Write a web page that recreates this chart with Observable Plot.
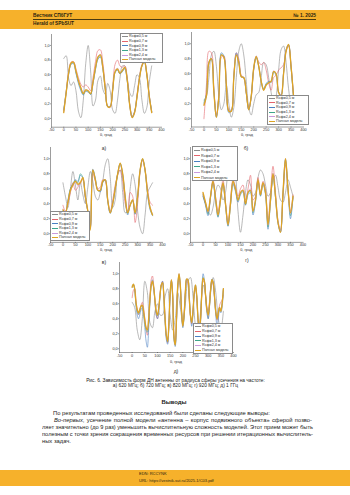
<!DOCTYPE html>
<html><head><meta charset="utf-8">
<script src="https://cdn.jsdelivr.net/npm/d3@7"></script>
<script src="https://cdn.jsdelivr.net/npm/@observablehq/plot@0.6"></script>
<style>
html,body{margin:0;padding:0;background:#fff;}
#page{position:relative;width:350px;height:495px;overflow:hidden;font-family:"Liberation Sans",Arial,sans-serif;color:#222;background:#fff;}
.t{position:absolute;white-space:nowrap;}
.band{position:absolute;left:0;width:350px;background:#f6b12b;}
.leg{position:absolute;background:#fff;border:0.4px solid #8a8a8a;box-sizing:border-box;}
.legrow{position:absolute;white-space:nowrap;font-size:3.7px;line-height:4px;color:#333;}
.sw{position:absolute;height:0;}
</style></head><body>
<div id="page"></div>
<script>
// ---------- data ----------
const seriesNames = ["Rсф=0,5 м","Rсф=0,7 м","Rсф=0,9 м","Rсф=1,3 м","Rсф=2,4 м","Полная модель"];
const xTicks = [-50,0,50,100,150,200,250,300,350,400];
const yTicks = [0,0.2,0.4,0.6,0.8,1.0];
const panelLetters = ["а)","б)","в)","г)","д)"];
const theta10 = [0,10,20,30,40,50,60,70,80,90,100,110,120,130,140,150,160,170,180,190,200,210,220,230,240,250,260,270,280,290,300,310,320,330,340,350,360];
const theta5 = [0,5,10,15,20,25,30,35,40,45,50,55,60,65,70,75,80,85,90,95,100,105,110,115,120,125,130,135,140,145,150,155,160,165,170,175,180,185,190,195,200,205,210,215,220,225,230,235,240,245,250,255,260,265,270,275,280,285,290,295,300,305,310,315,320,325,330,335,340,345,350,355,360];

// а) 620 MHz
const a05 = [0.82,0.86,0.55,0.45,0.50,0.38,0.10,0.01,0.25,0.75, 1.00,0.65,0.17,0.25,0.52,0.58,0.40,0.33,0.48,0.38, 0.12,0.07,0.25,0.55,0.72,0.72,0.55,0.35,0.30,0.45, 0.60,0.55,0.25,0.07,0.15,0.50,0.72];
const a07 = [0.10,0.37,0.64,0.77,0.78,0.68,0.56,0.47,0.43,0.46, 0.43,0.38,0.56,0.78,0.93,0.94,0.76,0.45,0.16,0.15, 0.42,0.74,0.80,0.72,0.70,0.72,0.55,0.20,0.03,0.10, 0.33,0.58,0.74,0.79,0.62,0.32,0.09];
const a09 = [0.12,0.36,0.60,0.74,0.75,0.62,0.48,0.38,0.32,0.37, 0.36,0.33,0.48,0.67,0.81,0.84,0.68,0.40,0.17,0.17, 0.38,0.63,0.66,0.61,0.64,0.68,0.51,0.19,0.02,0.09, 0.31,0.56,0.72,0.77,0.60,0.31,0.10];
const a13 = [0.11,0.35,0.61,0.75,0.76,0.63,0.50,0.40,0.33,0.38, 0.37,0.33,0.49,0.68,0.82,0.85,0.69,0.40,0.16,0.16, 0.38,0.63,0.67,0.61,0.65,0.69,0.52,0.18,0.02,0.09, 0.30,0.55,0.72,0.78,0.60,0.30,0.09];
const a24 = [0.09,0.35,0.62,0.76,0.77,0.65,0.52,0.42,0.35,0.39, 0.38,0.34,0.50,0.70,0.85,0.88,0.70,0.40,0.16,0.16, 0.38,0.65,0.69,0.62,0.66,0.70,0.52,0.18,0.01,0.08, 0.30,0.55,0.72,0.78,0.60,0.30,0.08];
const aFull = [0.08,0.35,0.62,0.76,0.77,0.65,0.52,0.42,0.34,0.39, 0.38,0.34,0.50,0.70,0.84,0.87,0.70,0.40,0.16,0.16, 0.38,0.64,0.68,0.62,0.66,0.70,0.52,0.18,0.01,0.08, 0.30,0.55,0.72,0.78,0.60,0.30,0.08];

// б) 720 MHz
const b05 = [0.25,0.30,0.55,0.85,0.90,0.70,0.30,0.12,0.20,0.45, 0.20,0.02,0.15,0.55,0.90,1.00,0.85,0.50,0.15,0.05, 0.20,0.32,0.35,0.55,0.75,0.72,0.55,0.35,0.20,0.30, 0.65,0.92,0.97,0.75,0.40,0.20,0.30];
const b07 = [0.00,0.45,0.90,0.88,0.40,0.05,0.32,0.82,0.84,0.45, 0.12,0.12,0.58,0.88,0.80,0.58,0.55,0.35,0.13,0.28, 0.65,0.82,0.76,0.72,0.75,0.65,0.48,0.38,0.55,0.58, 0.65,0.68,0.72,0.90,0.97,0.70,0.30];
const b09 = [0.20,0.32,0.76,0.80,0.36,0.03,0.32,0.88,0.84,0.44, 0.08,0.10,0.56,0.88,0.76,0.56,0.54,0.34,0.12,0.30, 0.66,0.82,0.70,0.50,0.40,0.47,0.50,0.48,0.62,0.58, 0.36,0.32,0.62,0.92,0.98,0.68,0.28];
const b13 = [0.22,0.32,0.74,0.80,0.36,0.02,0.30,0.86,0.82,0.44, 0.10,0.11,0.55,0.86,0.75,0.56,0.55,0.35,0.12,0.30, 0.67,0.82,0.70,0.50,0.39,0.46,0.49,0.50,0.63,0.59, 0.35,0.31,0.61,0.91,0.99,0.69,0.29];
const b24 = [0.18,0.30,0.75,0.81,0.35,0.02,0.30,0.85,0.82,0.45, 0.10,0.10,0.56,0.86,0.76,0.57,0.55,0.35,0.12,0.30, 0.68,0.84,0.71,0.50,0.38,0.45,0.48,0.50,0.64,0.60, 0.36,0.32,0.62,0.92,0.99,0.71,0.30];
const bFull = [0.18,0.30,0.75,0.80,0.35,0.02,0.30,0.85,0.82,0.45, 0.10,0.10,0.55,0.85,0.75,0.56,0.55,0.35,0.12,0.30, 0.68,0.83,0.70,0.50,0.38,0.45,0.48,0.50,0.63,0.60, 0.35,0.30,0.60,0.90,0.99,0.70,0.30];

// в) 820 MHz
const c05 = [0.68,0.50,0.35,0.60,0.83,0.65,0.45,0.68,0.52,0.40, 0.62,0.83,0.70,0.50,0.45,0.55,0.70,0.92,1.00,0.75, 0.35,0.45,0.80,0.85,0.55,0.28,0.30,0.60,0.80,0.65, 0.30,0.08,0.00,0.25,0.55,0.62,0.68];
const c07 = [0.38,0.30,0.40,0.55,0.68,0.58,0.62,0.70,0.72,0.48, 0.30,0.10,0.80,0.70,0.60,0.62,0.72,0.70,0.45,0.30, 0.45,0.65,0.78,0.85,0.70,0.40,0.30,0.55,0.50,0.15, 0.40,0.82,0.98,0.85,0.60,0.42,0.38];
const c09 = [0.30,0.28,0.45,0.60,0.66,0.72,0.70,0.78,0.74,0.48, 0.30,0.10,0.86,0.74,0.58,0.56,0.68,0.72,0.43,0.27, 0.40,0.60,0.80,0.93,0.78,0.48,0.25,0.38,0.44,0.26, 0.48,0.84,0.99,0.84,0.52,0.32,0.24];
const c13 = [0.31,0.28,0.43,0.60,0.66,0.71,0.68,0.80,0.75,0.50, 0.30,0.08,0.85,0.73,0.58,0.57,0.69,0.72,0.44,0.28, 0.40,0.60,0.80,0.94,0.79,0.49,0.27,0.38,0.45,0.27, 0.49,0.85,1.00,0.85,0.54,0.34,0.25];
const c24 = [0.33,0.29,0.42,0.56,0.64,0.68,0.64,0.66,0.74,0.50, 0.30,0.07,0.84,0.72,0.59,0.58,0.70,0.72,0.45,0.28, 0.41,0.61,0.80,0.93,0.80,0.50,0.28,0.38,0.45,0.29, 0.50,0.85,0.99,0.85,0.55,0.36,0.26];
const cFull = [0.32,0.28,0.42,0.58,0.65,0.70,0.66,0.68,0.75,0.50, 0.30,0.05,0.85,0.72,0.58,0.58,0.70,0.72,0.45,0.28, 0.40,0.60,0.80,0.94,0.80,0.50,0.28,0.38,0.45,0.28, 0.50,0.85,1.00,0.85,0.55,0.35,0.25];

// г) 920 MHz
const d05 = [0.50,0.40,0.30,0.25,0.35,0.55,0.65,0.60,0.45,0.55, 0.80,0.88,0.98,0.80,0.30,0.02,0.25,0.55,0.72,0.65, 0.50,0.55,0.75,0.85,0.80,0.65,0.50,0.55,0.72,0.78, 0.62,0.45,0.42,0.55,0.72,0.62,0.50];
const d07 = [0.52,0.40,0.28,0.48,0.72,0.50,0.30,0.50,0.72,0.42, 0.15,0.45,0.72,0.62,0.50,0.60,0.65,0.45,0.60,0.78, 0.45,0.50,0.75,0.55,0.70,0.58,0.15,0.55,0.90,0.55, 0.18,0.05,0.50,0.92,0.60,0.30,0.52];
const d09 = [0.50,0.38,0.24,0.48,0.68,0.45,0.22,0.45,0.66,0.38, 0.10,0.38,0.66,0.56,0.42,0.52,0.56,0.38,0.52,0.55, 0.25,0.42,0.70,0.50,0.66,0.52,0.06,0.42,0.78,0.48, 0.14,0.03,0.52,0.98,0.58,0.20,0.48];
const d13 = [0.52,0.40,0.26,0.49,0.69,0.46,0.23,0.45,0.67,0.39, 0.11,0.39,0.68,0.58,0.44,0.54,0.57,0.39,0.54,0.57, 0.28,0.44,0.71,0.51,0.67,0.54,0.09,0.44,0.79,0.49, 0.15,0.02,0.54,0.99,0.59,0.24,0.49];
const d24 = [0.54,0.42,0.29,0.50,0.70,0.48,0.25,0.46,0.68,0.40, 0.12,0.40,0.70,0.60,0.45,0.56,0.58,0.40,0.56,0.60, 0.30,0.46,0.72,0.52,0.68,0.55,0.12,0.46,0.81,0.50, 0.15,0.02,0.55,1.00,0.60,0.27,0.50];
const dFull = [0.55,0.42,0.30,0.50,0.70,0.48,0.25,0.45,0.68,0.40, 0.12,0.40,0.70,0.60,0.45,0.55,0.58,0.40,0.55,0.58, 0.30,0.45,0.72,0.52,0.68,0.55,0.12,0.45,0.80,0.50, 0.15,0.02,0.55,1.00,0.60,0.28,0.50];

// д) 1 GHz
const e05 = [0.62,0.55,0.25,0.12,0.40,0.90,0.75,0.35,0.28,0.50, 0.60,0.45,0.45,0.70,0.80,0.45,0.25,0.40,0.75,0.55, 0.35,0.60,0.90,0.95,0.70,0.30,0.15,0.50,0.85,0.70, 0.40,0.75,0.95,0.75,0.40,0.25,0.50];
const e07 = [0.68,0.78,0.80,0.65,0.52,0.45,0.50,0.58,0.62,0.55, 0.40,0.25,0.18,0.35,0.68,0.92,0.97,0.85,0.62,0.45, 0.40,0.52,0.72,0.86,0.90,0.72,0.40,0.15,0.08,0.30, 0.72,0.90,0.72,0.20,0.08,0.38,0.82,0.95,0.82,0.48, 0.32,0.48,0.78,0.92,0.88,0.66,0.42,0.33,0.50,0.72, 0.82,0.68,0.38,0.22,0.38,0.72,0.90,0.88,0.72,0.55, 0.50,0.62,0.82,0.90,0.85,0.68,0.48,0.38,0.45,0.58, 0.62,0.65,0.72];
const e09 = [0.82,0.85,0.78,0.58,0.45,0.40,0.45,0.52,0.55,0.45, 0.28,0.10,0.02,0.25,0.60,0.85,0.92,0.80,0.62,0.45, 0.40,0.50,0.70,0.85,0.90,0.68,0.35,0.12,0.06,0.30, 0.72,0.90,0.68,0.12,0.03,0.35,0.80,0.97,0.84,0.48, 0.28,0.42,0.72,0.90,0.92,0.72,0.45,0.30,0.45,0.72, 0.82,0.68,0.36,0.18,0.35,0.78,1.00,0.92,0.70,0.48, 0.40,0.55,0.80,0.93,0.88,0.68,0.45,0.30,0.40,0.52, 0.48,0.55,0.78];
const e13 = [0.84,0.86,0.79,0.60,0.50,0.46,0.50,0.56,0.57,0.48, 0.35,0.25,0.22,0.38,0.64,0.84,0.89,0.81,0.64,0.49, 0.44,0.54,0.71,0.85,0.88,0.70,0.39,0.17,0.09,0.34, 0.74,0.91,0.70,0.15,0.05,0.39,0.84,0.99,0.85,0.50, 0.30,0.45,0.75,0.93,0.92,0.70,0.45,0.35,0.50,0.75, 0.85,0.70,0.40,0.25,0.40,0.76,0.95,0.90,0.70,0.52, 0.45,0.58,0.80,0.92,0.88,0.70,0.50,0.40,0.48,0.55, 0.50,0.60,0.80];
const e24 = [0.83,0.86,0.80,0.62,0.52,0.48,0.52,0.57,0.58,0.50, 0.38,0.29,0.26,0.40,0.65,0.84,0.90,0.82,0.65,0.50, 0.45,0.55,0.72,0.85,0.88,0.70,0.40,0.18,0.10,0.35, 0.75,0.92,0.70,0.15,0.05,0.40,0.85,1.00,0.85,0.50, 0.30,0.45,0.75,0.93,0.92,0.70,0.45,0.35,0.50,0.75, 0.85,0.70,0.40,0.25,0.40,0.75,0.94,0.90,0.70,0.52, 0.45,0.58,0.80,0.92,0.88,0.70,0.50,0.40,0.48,0.55, 0.50,0.60,0.80];
const eFull = [0.82,0.86,0.80,0.62,0.52,0.48,0.52,0.57,0.58,0.50, 0.38,0.28,0.25,0.40,0.65,0.84,0.90,0.82,0.65,0.50, 0.45,0.55,0.72,0.85,0.88,0.70,0.40,0.18,0.10,0.35, 0.75,0.92,0.70,0.15,0.05,0.40,0.85,1.00,0.85,0.50, 0.30,0.45,0.75,0.93,0.92,0.70,0.45,0.35,0.50,0.75, 0.85,0.70,0.40,0.25,0.40,0.75,0.94,0.90,0.70,0.52, 0.45,0.58,0.80,0.92,0.88,0.70,0.50,0.40,0.48,0.55, 0.50,0.60,0.80];

// ---------- styling ----------
const colors = ["#8a8a8a","#e4646c","#4a80c2","#3ea58b","#c99adc","#dea424"];
const widths = [0.6,0.6,0.6,0.6,0.6,1.3];

const page = document.getElementById("page");

function txt(str, x, yc, fs, o = {}) {
  const d = document.createElement("div");
  d.className = "t";
  d.style.fontSize = fs + "px";
  d.style.lineHeight = (fs * 1.2) + "px";
  d.style.top = (yc - fs * 0.6) + "px";
  if (o.align === "center") { d.style.left = (x - 150) + "px"; d.style.width = "300px"; d.style.textAlign = "center"; }
  else if (o.align === "right") { d.style.left = (x - 200) + "px"; d.style.width = "200px"; d.style.textAlign = "right"; }
  else d.style.left = x + "px";
  if (o.bold) d.style.fontWeight = "bold";
  if (o.color) d.style.color = o.color;
  if (o.html) d.innerHTML = str; else d.textContent = str;
  page.appendChild(d);
  return d;
}

// header / footer bands
const hb = document.createElement("div"); hb.className = "band"; hb.style.top = "10px"; hb.style.height = "19.3px"; page.appendChild(hb);
const fb = document.createElement("div"); fb.className = "band"; fb.style.top = "470px"; fb.style.height = "16px"; page.appendChild(fb);
const hl = document.createElement("div"); hl.style.cssText = "position:absolute;left:33px;top:19px;width:283px;height:0;border-top:0.5px solid #4a3a10;"; page.appendChild(hl);
txt("Вестник СПбГУТ", 33, 15.9, 4.8, {bold: true, color: "#2a2310"});
txt("Herald of SPbSUT", 33, 24.2, 4.8, {bold: true, color: "#2a2310"});
txt("№ 1. 2025", 316, 15.9, 4.8, {bold: true, color: "#2a2310", align: "right"});
txt("EDN: RCCYNK", 139, 474.4, 4, {color: "#2a2310"});
txt("URL: https://vestnik-sut.ru/2025-1/C03.pdf", 139, 481.4, 4, {color: "#2a2310"});

// ---------- panels ----------
function mk(theta, vals) { return vals.map((v, i) => ({theta: theta[i], v})).filter(d => d.theta !== undefined); }

const panels = [
  {xL: 51, xR: 161, y1: 45, y0: 118, yMin: -0.12, th: [theta10,theta10,theta10,theta10,theta10,theta10], vals: [a05,a07,a09,a13,a24,aFull],
   leg: {x: 120, y: 33, w: 43, h: 29.5, r0: 36.2, dr: 4.65}, lab: {x: 104, y: 147.5}, tt: 135.4},
  {xL: 191, xR: 303, y1: 43.5, y0: 118.5, yMin: -0.11, th: [theta10,theta10,theta10,theta10,theta10,theta10], vals: [b05,b07,b09,b13,b24,bFull],
   leg: {x: 267, y: 95, w: 42, h: 29.5, r0: 98, dr: 4.65}, lab: {x: 246, y: 147.5}, tt: 134.8},
  {xL: 50, xR: 162, y1: 158, y0: 233, yMin: -0.115, th: [theta10,theta10,theta10,theta10,theta10,theta10], vals: [c05,c07,c09,c13,c24,cFull],
   leg: {x: 50, y: 211, w: 40, h: 29.5, r0: 214.2, dr: 4.65}, lab: {x: 104, y: 262}, tt: 250},
  {xL: 190, xR: 302.5, y1: 158, y0: 233, yMin: -0.115, th: [theta10,theta10,theta10,theta10,theta10,theta10], vals: [d05,d07,d09,d13,d24,dFull],
   leg: {x: 192, y: 146, w: 46, h: 35, r0: 150, dr: 5.5}, lab: {x: 247, y: 260}, tt: 250},
  {xL: 119, xR: 233, y1: 273, y0: 348, yMin: -0.05, th: [theta10,theta5,theta5,theta5,theta5,theta5], vals: [e05,e07,e09,e13,e24,eFull],
   leg: {x: 193, y: 323, w: 40, h: 31, r0: 326.2, dr: 4.8}, lab: {x: 176, y: 370.5}, tt: 361.8}
];

panels.forEach((p, k) => {
  const unit = p.y0 - p.y1;
  const top = p.y0 - 1.15 * unit, bot = p.y0 - p.yMin * unit;
  const ml = 14, mr = 4, mt = 2, mb = 7;
  const W = (p.xR - p.xL) + ml + mr, H = (bot - top) + mt + mb;
  const marks = [];
  p.vals.forEach((vals, i) => {
    marks.push(Plot.line(mk(p.th[i], vals), {x: "theta", y: "v", stroke: colors[i], strokeWidth: widths[i], curve: "catmull-rom", strokeLinejoin: "round"}));
  });
  marks.push(Plot.ruleX([-50], {stroke: "#3a3a3a", strokeWidth: 0.5}));
  marks.push(Plot.ruleY([p.yMin], {stroke: "#3a3a3a", strokeWidth: 0.5}));
  marks.push(Plot.axisX({ticks: xTicks, tickSize: 1, tickPadding: 0.4, tickFormat: d => String(d), label: null, stroke: "#3a3a3a", strokeWidth: 0.5, fill: "#333"}));
  marks.push(Plot.axisY({ticks: yTicks, tickSize: 1.2, tickPadding: 0.6, tickFormat: d => d.toFixed(1).replace(".", ","), label: null, stroke: "#3a3a3a", strokeWidth: 0.5, fill: "#333"}));
  const svg = Plot.plot({
    width: W, height: H, marginLeft: ml, marginRight: mr, marginTop: mt, marginBottom: mb,
    x: {domain: [-50, 400]}, y: {domain: [p.yMin, 1.15]},
    style: {fontSize: "3.8px", fontFamily: "'Liberation Sans', Arial, sans-serif", background: "transparent", overflow: "visible", color: "#333"},
    marks
  });
  svg.style.position = "absolute";
  svg.style.left = (p.xL - ml) + "px";
  svg.style.top = (top - mt) + "px";
  svg.style.maxWidth = "none";
  page.appendChild(svg);

  // axis title and panel letter
  txt("θ, град", (p.xL + p.xR) / 2, p.tt, 3.8, {align: "center", color: "#333"});
  txt(panelLetters[k], p.lab.x, p.lab.y, 5, {align: "center", color: "#333"});

  // legend
  const L = p.leg;
  const box = document.createElement("div"); box.className = "leg";
  box.style.left = L.x + "px"; box.style.top = L.y + "px"; box.style.width = L.w + "px"; box.style.height = L.h + "px";
  page.appendChild(box);
  seriesNames.forEach((name, i) => {
    const yc = L.r0 + i * L.dr;
    const sw = document.createElement("div"); sw.className = "sw";
    sw.style.left = (L.x + 1.5) + "px"; sw.style.width = "6.5px";
    sw.style.top = (yc - widths[i] / 2) + "px";
    sw.style.borderTop = (i === 5 ? 1.6 : 0.7) + "px solid " + colors[i];
    page.appendChild(sw);
    const r = document.createElement("div"); r.className = "legrow";
    r.style.left = (L.x + 9) + "px"; r.style.top = (yc - 2) + "px";
    r.textContent = name;
    page.appendChild(r);
  });
});

// ---------- caption & body text ----------
function line(html, x, yc, fs, o = {}) {
  const d = document.createElement("div"); d.className = "t";
  d.style.fontSize = fs + "px"; d.style.lineHeight = (fs * 1.2) + "px";
  d.style.top = (yc - fs * 0.6) + "px"; d.style.left = x + "px";
  if (o.bold) d.style.fontWeight = "bold";
  const s = document.createElement("span"); s.innerHTML = html; d.appendChild(s);
  page.appendChild(d);
  return {d, s};
}
function fitJustify(l, w) {
  const nw = l.s.getBoundingClientRect().width;
  if (nw > w) { l.d.style.transformOrigin = "0 50%"; l.d.style.transform = "scaleX(" + (w / nw) + ")"; return; }
  const n = (l.s.textContent.match(/ /g) || []).length;
  if (n) l.s.style.wordSpacing = ((w - nw) / n) + "px";
}

// figure caption
const cap1 = "Рис. 6. Зависимость форм ДН антенны от радиуса сферы усечения на частоте:";
const cap2 = "а) 620 МГц; б) 720 МГц; в) 820 МГц; г) 920 МГц; д) 1 ГГц";
let probe = line(cap1, 0, -50, 5);
let capFs = 5 * 179 / probe.s.getBoundingClientRect().width;
probe.d.remove();
const c1 = line(cap1, 0, 380.8, capFs); c1.d.style.left = (175.5 - c1.s.getBoundingClientRect().width / 2) + "px";
const c2 = line(cap2, 0, 385.9, capFs); c2.d.style.left = (175.5 - c2.s.getBoundingClientRect().width / 2) + "px";

// body
const b1 = "По результатам проведенных исследований были сделаны следующие выводы:";
const b2 = "<i>Во-первых</i>, усечение полной модели «антенна – корпус подвижного объекта» сферой позво-";
const b3 = "ляет значительно (до 9 раз) уменьшить вычислительную сложность моделей. Этот прием может быть";
const b4 = "полезным с точки зрения сокращения временных ресурсов при решении итерационных вычислитель-";
const b5 = "ных задач.";
probe = line(b1, 0, -50, 6);
let bodyFs = 6 * 217 / probe.s.getBoundingClientRect().width;
probe.d.remove();
const head = line("Выводы", 0, 402.8, bodyFs * 1.02, {bold: true});
head.d.style.left = (174 - head.s.getBoundingClientRect().width / 2) + "px";
line(b1, 53, 413.8, bodyFs);
fitJustify(line(b2, 54, 420.8, bodyFs), 258);
fitJustify(line(b3, 42, 427.8, bodyFs), 271);
fitJustify(line(b4, 42, 434.8, bodyFs), 271);
line(b5, 42, 441.8, bodyFs);
</script>
</body></html>
